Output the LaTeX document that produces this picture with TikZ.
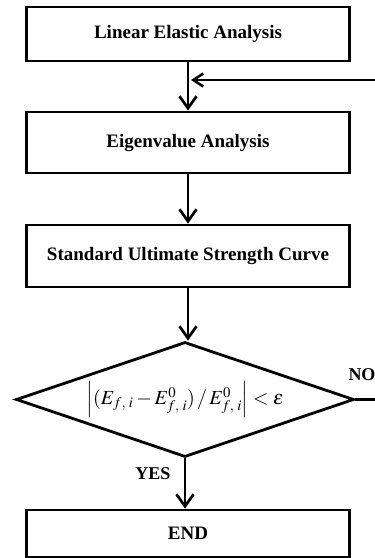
\documentclass[tikz,border=0pt]{standalone}
\usepackage{mathptmx}
\usepackage[no-math]{fontspec}
\setmainfont{Liberation Serif}
\usetikzlibrary{shapes.geometric,arrows.meta}
\tikzset{
  stepbox/.style={draw, line width=2.8pt, rectangle, inner sep=0pt,
    minimum width=323pt, font=\fontsize{19}{22}\selectfont\bfseries},
  testbox/.style={draw, line width=2.8pt, diamond, aspect=2.94, inner sep=0pt,
    minimum width=338pt, minimum height=115pt},
  flow/.style={line width=2.7pt, -{Straight Barb[length=12pt,width=17pt,line width=2.7pt]}},
  tag/.style={font=\fontsize{18}{20}\selectfont\bfseries, inner sep=0pt}
}
\begin{document}
\begin{tikzpicture}[x=1pt,y=-1pt]
  \useasboundingbox (0,0) rectangle (375,558);

  % process steps
  \node[stepbox, minimum height=54pt] (lin) at (188,34) {Linear Elastic Analysis};
  \node[stepbox, minimum height=61pt] (eig) at (188,142.5) {Eigenvalue Analysis};
  \node[stepbox, minimum height=62pt] (std) at (188,256) {Standard Ultimate Strength Curve};
  \node[testbox] (chk) at (185,399.5)
    {\fontsize{20}{24}\selectfont$\left|(E_{f,\;i}-E^{0}_{f,\;i})\,/\,E^{0}_{f,\;i}\right|<\varepsilon$};
  \node[stepbox, minimum height=47pt] (fin) at (188,533.5) {END};

  % main flow
  \draw[flow] (lin.south) -- (eig.north);
  \draw[flow] (eig.south) -- (std.north);
  \draw[flow] (std.south) -- (std.south |- chk.north);
  \draw[flow] (chk.south) -- (chk.south |- fin.north);

  % loop back on failure
  \coordinate (noout) at (375,399.5);
  \coordinate (back) at (375,80);
  \draw[line width=2.7pt] (chk.east) -- (noout);
  \draw[line width=2.7pt, -{Straight Barb[length=10pt,width=13pt,line width=2.5pt]}]
    (back) -- ([xshift=3pt]lin.south |- back);

  % branch labels
  \node[tag] (no) at (362,375) {NO};
  \node[tag] (yes) at (153,474) {YES};
\end{tikzpicture}
\end{document}
